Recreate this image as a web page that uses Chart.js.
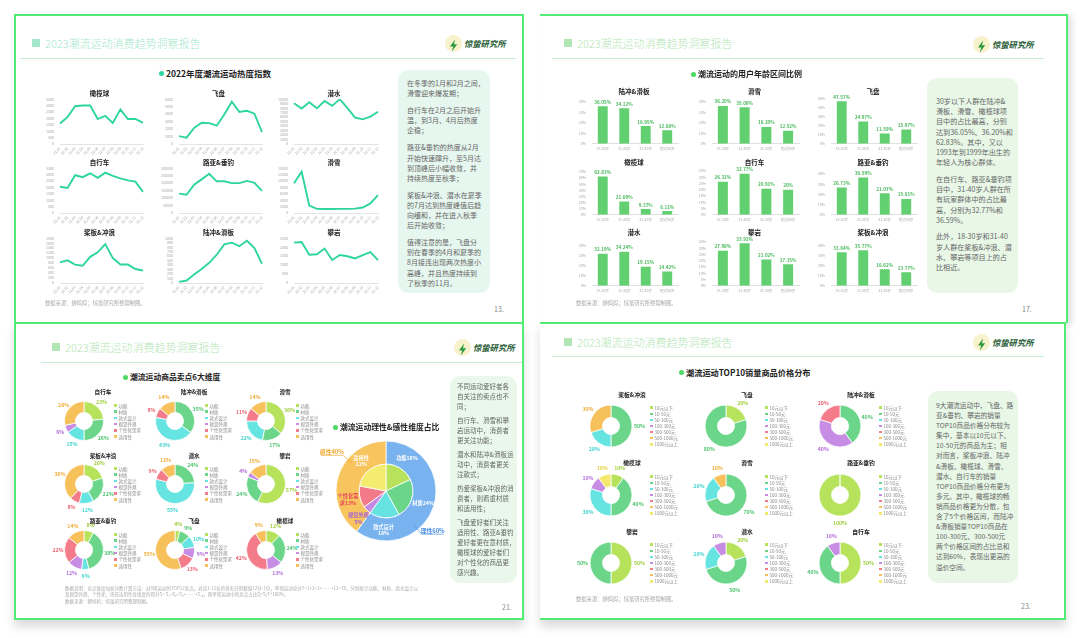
<!DOCTYPE html>
<html lang="zh-CN">
<head>
<meta charset="utf-8">
<title>2023潮流运动消费趋势洞察报告</title>
<script src="https://cdn.jsdelivr.net/npm/chart.js@4.4.1/dist/chart.umd.min.js"></script>
<style>
  body { margin:0; width:1080px; height:638px; background:#fff; position:relative; overflow:hidden;
         font-family:"Noto Sans CJK SC","Noto Sans",sans-serif; }
  .t  { position:absolute; white-space:nowrap; line-height:1; transform:translateY(-50%); }
  .tc { position:absolute; white-space:nowrap; line-height:1; transform:translate(-50%,-50%); }
  .note { position:absolute; box-sizing:border-box; border-radius:10px; color:#666; }
  .note p { margin:0; }
  canvas { position:absolute; }
</style>
</head>
<body>
<script>
// ---------- data ----------
const months = ["22.01","22.02","22.03","22.04","22.05","22.06","22.07","22.08","22.09","22.10","22.11","22.12"];

// 2022年度潮流运动热度指数
const heatRugby   = [1600, 2100, 2950, 3000, 3000, 1950, 2200, 1650, 2700, 1950, 1950, 1650];
const heatFrisbee = [1050, 850, 2150, 2850, 2800, 2450, 3950, 5650, 4300, 4450, 4050, 1600];
const heatDiving  = [9100, 7900, 9300, 7950, 9600, 8500, 10000, 8000, 5900, 5500, 6100, 7200];
const heatCycling = [2050, 1950, 2950, 2800, 3100, 2750, 3150, 2900, 2700, 2550, 2450, 1650];
const heatFishing = [130000, 122000, 190000, 225000, 262000, 212000, 212000, 200000, 200000, 215000, 202000, 148000];
const heatSkiing  = [9300, 12900, 2300, 1300, 1250, 1250, 1300, 1300, 1350, 1700, 3000, 5600];
const heatPaddle  = [830, 910, 740, 690, 1050, 1230, 1560, 1000, 740, 740, 560, 500];
const heatSkate   = [25, 55, 190, 310, 450, 630, 860, 900, 820, 940, 780, 430];
const heatClimb   = [2250, 2280, 1580, 1600, 1920, 1280, 1560, 1490, 1370, 1560, 1720, 1280];

// 潮流运动的用户年龄区间比例 (%)
const ageGroups   = ["18-30岁", "31-40岁", "41-50岁", "超过50岁"];
const ageSkate    = ["36.05", "34.12", "16.95", "12.88"];
const ageSkiing   = ["36.20", "35.00", "16.20", "12.52"];
const ageFrisbee  = ["47.57", "24.97", "11.59", "15.87"];
const ageRugby    = ["62.83", "21.69", "9.37", "6.11"];
const ageCycling  = ["26.32", "32.77", "20.91", "20"];
const ageFishing  = ["26.73", "36.59", "21.07", "15.61"];
const ageDiving   = ["32.19", "34.24", "19.15", "14.42"];
const ageClimb    = ["27.96", "33.91", "21.02", "17.15"];
const agePaddle   = ["33.84", "35.77", "16.62", "13.77"];

// 潮流运动商品卖点6大维度 (%)
const sellDims    = ["功能", "材质", "款式设计", "视觉外观", "个性化需求", "适用性"];
const sellCycling = [23, 26, 15, 6, 0, 28];
const sellSkate   = [0, 35, 43, 0, 8, 14];
const sellSkiing  = [36, 17, 22, 0, 11, 14];
const sellPaddle  = [20, 22, 12, 0, 8, 38];
const sellDiving  = [0, 24, 55, 0, 9, 12];
const sellClimb   = [57, 24, 0, 4, 0, 15];
const sellFishing = [8, 38, 6, 12, 22, 14];
const sellFrisbee = [4, 9, 10, 9, 13, 55];
const sellRugby   = [12, 24, 0, 13, 42, 9];

// 潮流运动理性&感性维度占比 (%)
const mindSides = ["理性", "感性"];
const mindShare = [60, 40];
const dimShare  = [18, 24, 18, 5, 13, 22];

// 潮流运动TOP10销量商品价格分布 (%)
const priceBands   = ["10元以下", "10-50元", "50-100元", "100-300元", "300-500元", "500-1000元", "1000元以上"];
const pricePaddle  = [0, 50, 20, 0, 0, 30, 0];
const priceFrisbee = [20, 80, 0, 0, 0, 0, 0];
const priceSkate   = [0, 40, 0, 40, 20, 0, 0];
const priceRugby   = [10, 40, 30, 10, 0, 0, 10];
const priceSkiing  = [0, 70, 20, 0, 0, 10, 0];
const priceFishing = [100, 0, 0, 0, 0, 0, 0];
const priceClimb   = [50, 50, 0, 0, 0, 0, 0];
const priceDiving  = [20, 50, 20, 10, 0, 0, 0];
const priceCycling = [50, 40, 0, 10, 0, 0, 0];

// ---------- styling ----------
Chart.defaults.font.family = '"Noto Sans CJK SC", "Noto Sans", sans-serif';
Chart.defaults.animation = false;
Chart.defaults.responsive = false;
Chart.defaults.devicePixelRatio = 1;
Chart.defaults.plugins.legend.display = false;
Chart.defaults.plugins.tooltip.enabled = false;

const TEAL = "#2fd59f";
const BAR_GREEN = "#62cf70";
const FRAME = "#52ec74";
const sliceColors = ["#b6e25c", "#6bd68a", "#66e4e2", "#c78ce4", "#f47b89", "#f6c05a", "#f4e96e"];
const labelColors = ["#9fce3e", "#4fc46f", "#3fd3d0", "#b46ed8", "#ef5f70", "#f0ad3a", "#e3cf3c"];

// ---------- helpers ----------
function box(x, y, w, h, css) {
  const d = document.createElement("div");
  d.style.cssText = `position:absolute;left:${x}px;top:${y}px;width:${w}px;height:${h}px;` + (css || "");
  document.body.appendChild(d);
  return d;
}
function text(x, y, s, css, centered) {
  const d = document.createElement("div");
  d.className = centered ? "tc" : "t";
  d.style.cssText = `left:${x}px;top:${y}px;` + (css || "");
  d.textContent = s;
  document.body.appendChild(d);
  return d;
}
function canvasAt(x, y, w, h) {
  const c = document.createElement("canvas");
  w = Math.round(w); h = Math.round(h);
  c.width = w; c.height = h;
  c.style.cssText = `left:${x}px;top:${y}px;width:${w}px;height:${h}px`;
  document.body.appendChild(c);
  return c;
}
const BOLT = '<svg width="17" height="17" viewBox="0 0 17 17"><path d="M10 2.5 L5 9.5 H8.2 L6.8 14.5 L12.2 7.3 H9 Z" fill="#2b9a3e"/></svg>';

function header(x, y, color) {
  box(x, y - 4, 8, 8, `background:${color}`);
  text(x + 13, y, "2023潮流运动消费趋势洞察报告", `font-size:11px;color:${color};font-weight:300`);
}
function logo(x, y) {
  box(x, y - 8.5, 17, 17, "border-radius:50%;background:#f7f1cc").innerHTML = BOLT;
  text(x + 19, y, "惊蛰研究所", "font-size:8.3px;font-weight:700;font-style:italic;color:#1f5b34");
}
function rule(x1, x2, y) { box(x1, y, x2 - x1, 1, "background:#c8efd4"); }
function chartTitle(x, y, s, dot, size) {
  box(x - 2.5, y - 2.5, 5, 5, `border-radius:50%;background:${dot}`);
  text(x + 5, y, s, `font-size:${size}px;font-weight:700;color:#222`);
}
function note(x, y, w, h, bg, paras, size, lh, gap, padL, padT) {
  const d = box(x, y, w, h, `background:${bg};padding:${padT}px 0 0 ${padL}px;font-size:${size}px;line-height:${lh}px;`);
  d.className = "note";
  d.innerHTML = paras.map(p => `<p style="margin-bottom:${gap}px">${p.join("<br>")}</p>`).join("");
}
function small(x, y, s, size) { text(x, y, s, `font-size:${size}px;color:#aaa`); }

// ---------- slides ----------
box(14, 14, 510, 309, `background:#fff;box-sizing:border-box;border:2px solid ${FRAME};border-bottom:0`);
box(540, 14, 528, 309, `background:#fff;box-sizing:border-box;border-top:2px solid ${FRAME};border-right:2px solid ${FRAME};box-shadow:4px 2px 6px rgba(0,0,0,.12)`);
box(14, 322, 510, 298, `background:#fff;box-sizing:border-box;border:2px solid ${FRAME};box-shadow:0 7px 9px rgba(0,0,0,.14)`);
box(540, 322, 526, 298, `background:#fff;box-sizing:border-box;border:2px solid ${FRAME};border-left:0;box-shadow:0 7px 9px rgba(0,0,0,.14)`);

header(32, 43, "#a3e6cc"); logo(445, 43); rule(20, 516, 58);
header(564, 43, "#b3e6b5"); logo(973, 44); rule(552, 1044, 58);
header(52, 347, "#b3e6b5"); logo(454, 347); rule(41, 522, 362);
header(564, 342, "#b3e6b5"); logo(973, 342); rule(552, 1044, 356);

// ---------- slide 13: line charts ----------
chartTitle(161, 73, "2022年度潮流运动热度指数", TEAL, 8.5);
const lineCols = [[60, 143], [179, 262], [294, 378]];
const lineRows = [[96, 143.5], [164.5, 212.5], [235, 283]];
const lineTitleY = [93, 162, 232];
const lineGrid = [
  [["橄榄球", heatRugby, 3500, 500], ["飞盘", heatFrisbee, 6000, 1000], ["潜水", heatDiving, 10000, 1000]],
  [["自行车", heatCycling, 3500, 500], ["路亚&垂钓", heatFishing, 300000, 50000], ["滑雪", heatSkiing, 14000, 2000]],
  [["桨板&冲浪", heatPaddle, 1800, 200], ["陆冲&滑板", heatSkate, 1000, 100], ["攀岩", heatClimb, 2500, 500]]
];
lineGrid.forEach((row, r) => row.forEach((spec, c) => {
  const [name, values, yMax, yStep] = spec;
  const [L, R] = lineCols[c], [T, B] = lineRows[r];
  const yW = 26, padT = 5, padR = 6, xH = 11;
  const cv = canvasAt(L - yW, T - padT, R - L + yW + padR, B - T + padT + xH);
  new Chart(cv, {
    type: "line",
    data: { labels: months, datasets: [{ data: values, borderColor: TEAL, borderWidth: 1.9, pointRadius: 0, tension: 0, fill: false }] },
    options: {
      layout: { padding: { top: padT, right: padR, left: 0, bottom: 0 } },
      scales: {
        x: { grid: { display: false, drawTicks: false }, border: { color: "#e4e4e4" },
             ticks: { font: { size: 3.6 }, color: "#aaa", minRotation: 45, maxRotation: 45, autoSkip: false, padding: 2 },
             afterFit: s => { s.height = xH; } },
        y: { min: 0, max: yMax, grid: { display: false, drawTicks: false }, border: { display: false },
             ticks: { stepSize: yStep, font: { size: 3.6 }, color: "#aaa", padding: 6, autoSkip: false, callback: v => v },
             afterFit: s => { s.width = yW; } }
      }
    }
  });
  text((L + R) / 2 - 2, lineTitleY[r], name, "font-size:6.5px;font-weight:700;color:#222", true);
}));
note(398, 70, 92, 223, "#e6f7ef", [
  ["在冬季的1月和2月之间，", "滑雪迎来爆发期；"],
  ["自行车在2月之后开始升", "温，到3月、4月后热度", "企稳；"],
  ["路亚&垂钓的热度从2月", "开始快速蹿升，至5月达", "到顶峰后小幅收敛，并", "持续热度至秋季；"],
  ["桨板&冲浪、潜水在夏季", "的7月达到热度峰值后趋", "向缓和，并在进入秋季", "后开始收敛；"],
  ["值得注意的是，飞盘分", "别在春季的4月和夏季的", "8月接连出现两次热度小", "高峰，并且热度持续到", "了秋季的11月。"]
], 7, 10.1, 7, 9, 8);
small(45, 304, "数据来源：蝉妈妈；惊蛰研究所整理制图。", 5.3);
text(494, 309, "13.", "font-size:7px;color:#888");

// ---------- slide 17: bar charts ----------
chartTitle(693, 74, "潮流运动的用户年龄区间比例", "#4cd964", 8);
const barCols = [[592, 678], [712, 799], [831, 917]];
const barTops = [[102, 102, 99], [172, 171, 174], [246, 242, 246]];
const barZero = [144, 215, 286];
const barTitleY = [91, 162, 232];
const barGrid = [
  [["陆冲&滑板", ageSkate, 40, 10], ["滑雪", ageSkiing, 40, 10], ["飞盘", ageFrisbee, 50, 10]],
  [["橄榄球", ageRugby, 70, 10], ["自行车", ageCycling, 35, 5], ["路亚&垂钓", ageFishing, 40, 10]],
  [["潜水", ageDiving, 40, 10], ["攀岩", ageClimb, 35, 5], ["桨板&冲浪", agePaddle, 40, 10]]
];
function barValueLabels(texts) {
  return {
    id: "barValueLabels",
    afterDatasetsDraw(chart) {
      const ctx = chart.ctx;
      ctx.save();
      ctx.font = '700 4.6px "Noto Sans CJK SC"';
      ctx.fillStyle = "#48b95a";
      ctx.textAlign = "center";
      ctx.textBaseline = "bottom";
      chart.getDatasetMeta(0).data.forEach((bar, i) => ctx.fillText(texts[i] + "%", bar.x, bar.y - 2));
      ctx.restore();
    }
  };
}
barGrid.forEach((row, r) => row.forEach((spec, c) => {
  const [name, texts, yMax, yStep] = spec;
  const [L, R] = barCols[c], T = barTops[r][c], B = barZero[r];
  const yW = 20, padT = 12, padR = 4, xH = 8;
  const cv = canvasAt(L - yW, T - padT, R - L + yW + padR, B - T + padT + xH);
  new Chart(cv, {
    type: "bar",
    data: { labels: ageGroups, datasets: [{ data: texts.map(Number), backgroundColor: BAR_GREEN, barPercentage: 0.46, categoryPercentage: 1 }] },
    options: {
      layout: { padding: { top: padT, right: padR, left: 0, bottom: 0 } },
      scales: {
        x: { grid: { display: false, drawTicks: false }, border: { color: "#e0e0e0" },
             ticks: { font: { size: 3.5 }, color: "#aaa", maxRotation: 0, autoSkip: false, padding: 3 },
             afterFit: s => { s.height = xH; } },
        y: { min: 0, max: yMax, grid: { display: false, drawTicks: false }, border: { display: false },
             ticks: { stepSize: yStep, font: { size: 3.6 }, color: "#aaa", padding: 6, autoSkip: false, callback: v => v + "%" },
             afterFit: s => { s.width = yW; } }
      }
    },
    plugins: [barValueLabels(texts)]
  });
  text((L + R) / 2 - 1, barTitleY[r], name, "font-size:6.5px;font-weight:700;color:#222", true);
}));
note(927, 78, 91, 215, "#e8f7e6", [
  ["30岁以下人群在陆冲&", "滑板、滑雪、橄榄球项", "目中的占比最高，分别", "达到36.05%、36.20%和", "62.83%。其中，又以", "1993年到1999年出生的", "年轻人为核心群体。"],
  ["在自行车、路亚&垂钓项", "目中，31-40岁人群在所", "有玩家群体中的占比最", "高，分别为32.77%和", "36.59%。"],
  ["此外，18-30岁和31-40", "岁人群在桨板&冲浪、潜", "水、攀岩等项目上的占", "比相近。"]
], 7.1, 10.2, 6.5, 9, 18);
small(576, 304, "数据来源：蝉妈妈；惊蛰研究所整理制图。", 5.3);
text(1022, 309, "17.", "font-size:7px;color:#888");

// ---------- doughnut helpers ----------
function ringLabels(offset, size) {
  return {
    id: "ringLabels",
    afterDatasetsDraw(chart) {
      const ctx = chart.ctx, ds = chart.data.datasets[0];
      ctx.save();
      ctx.font = `700 ${size}px "Noto Sans CJK SC"`;
      ctx.textAlign = "center";
      ctx.textBaseline = "middle";
      chart.getDatasetMeta(0).data.forEach((arc, i) => {
        const v = ds.data[i];
        if (!v) return;
        const a = (arc.startAngle + arc.endAngle) / 2, rr = arc.outerRadius + offset;
        ctx.fillStyle = labelColors[i];
        ctx.fillText(v + "%", arc.x + Math.cos(a) * rr, arc.y + Math.sin(a) * rr);
      });
      ctx.restore();
    }
  };
}
function ring(cx, cy, r, hole, cats, values, offset) {
  const half = Math.round(r + 20);
  const cv = canvasAt(cx - half, cy - half, half * 2, half * 2);
  new Chart(cv, {
    type: "doughnut",
    data: { labels: cats, datasets: [{ data: values, backgroundColor: sliceColors.slice(0, cats.length), borderColor: "#fff", borderWidth: 0.8 }] },
    options: { radius: r, cutout: (hole / r * 100) + "%", layout: { padding: 0 } },
    plugins: [ringLabels(offset, 5.2)]
  });
}
function legendList(x, yc, names, spacing) {
  const y0 = yc - (names.length - 1) * spacing / 2;
  names.forEach((nm, i) => {
    const y = y0 + i * spacing;
    box(x, y - 1.3, 2.6, 2.6, `background:${sliceColors[i]}`);
    text(x + 4.5, y, nm, "font-size:4.5px;color:#888");
  });
}

// ---------- slide 21: selling points ----------
chartTitle(125, 377, "潮流运动商品卖点6大维度", "#4cd964", 7.8);
const sellCx = [84, 175, 266], sellCy = [421, 484, 550], sellTitleY = [393, 457, 522];
const sellGrid = [
  [["自行车", sellCycling], ["陆冲&滑板", sellSkate], ["滑雪", sellSkiing]],
  [["桨板&冲浪", sellPaddle], ["潜水", sellDiving], ["攀岩", sellClimb]],
  [["路亚&垂钓", sellFishing], ["飞盘", sellFrisbee], ["橄榄球", sellRugby]]
];
sellGrid.forEach((row, r) => row.forEach(([name, values], c) => {
  const cx = sellCx[c], cy = sellCy[r];
  ring(cx, cy, 19.5, 8.5, sellDims, values, 6.5);
  legendList(cx + 30, cy, sellDims, 6.2);
  text(cx + 19, sellTitleY[r], name, "font-size:5.6px;font-weight:700;color:#222", true);
}));

chartTitle(335, 427, "潮流运动理性&感性维度占比", "#4cd964", 7.8);
const mindColors = ["#78b3ef", "#f7c45e"];
const mindText = ["#4a8fe0", "#f0aa35"];
const dimColors = ["#b9e25c", "#6bd58a", "#66e3e0", "#c48ae3", "#f37a89", "#f3ec6e"];
const mindLabels = {
  id: "mindLabels",
  afterDatasetsDraw(chart) {
    const ctx = chart.ctx;
    ctx.save();
    ctx.textAlign = "center";
    ctx.textBaseline = "middle";
    ctx.font = '700 5.2px "Noto Sans CJK SC"';
    chart.getDatasetMeta(1).data.forEach((arc, i) => {
      const a = (arc.startAngle + arc.endAngle) / 2, rr = 39;
      const name = sellDims[i], val = dimShare[i] + "%";
      const lines = name.length > 2 ? [name.slice(0, 4), name.slice(4) + val] : [name + val];
      const x = arc.x + Math.cos(a) * rr, y = arc.y + Math.sin(a) * rr;
      ctx.fillStyle = (i === 3 || i === 4) ? ["", "", "", "#a763d6", "#e8475c"][i] : "#fff";
      lines.forEach((ln, k) => ctx.fillText(ln, x, y + (k - (lines.length - 1) / 2) * 6.4));
    });
    ctx.font = '700 5.8px "Noto Sans CJK SC"';
    chart.getDatasetMeta(0).data.forEach((arc, i) => {
      const a = arc.startAngle + 0.65 * (arc.endAngle - arc.startAngle);
      const cs = Math.cos(a), sn = Math.sin(a), dir = cs > 0 ? 1 : -1;
      const x0 = arc.x + cs * (arc.outerRadius - 6), y0 = arc.y + sn * (arc.outerRadius - 6);
      const x1 = arc.x + cs * (arc.outerRadius + 6), y1 = arc.y + sn * (arc.outerRadius + 6);
      const x2 = x1 + dir * 22;
      ctx.strokeStyle = mindText[i];
      ctx.lineWidth = 0.7;
      ctx.beginPath(); ctx.moveTo(x0, y0); ctx.lineTo(x1, y1); ctx.lineTo(x2, y1); ctx.stroke();
      ctx.fillStyle = mindText[i];
      ctx.fillText(mindSides[i] + mindShare[i] + "%", (x1 + x2) / 2, y1 - 3.6);
    });
    ctx.restore();
  }
};
new Chart(canvasAt(300, 425, 172, 132), {
  type: "doughnut",
  data: {
    labels: sellDims,
    datasets: [
      { data: mindShare, backgroundColor: mindColors, borderColor: "#fff", borderWidth: 0.8, weight: 23 },
      { data: dimShare, backgroundColor: dimColors, borderColor: "#fff", borderWidth: 0.8, weight: 27 }
    ]
  },
  options: { radius: 50, cutout: 0, layout: { padding: 0 } },
  plugins: [mindLabels]
});

note(450, 376, 67, 207, "#e9f8ea", [
  ["不同运动爱好者各", "自关注的卖点也不", "同；"],
  ["自行车、滑雪和攀", "岩运动中，消费者", "更关注功能；"],
  ["潜水和陆冲&滑板运", "动中，消费者更关", "注款式；"],
  ["热爱桨板&冲浪的消", "费者，则看重材质", "和适用性；"],
  ["飞盘爱好者们关注", "适用性、路亚&垂钓", "爱好者更在意材质，", "橄榄球的爱好者们", "对个性化的商品更", "感兴趣。"]
], 6.5, 10, 4, 7, 5);
small(65, 588, "数据说明：卖点维度加权分数计算方法：对9项运动的TOP12卖点，对应1-12位的排名分别赋值12分-1分，单项运动总分T=1+2+3+……+12=78，分别统计功能、材质、款式设计以", 4.5);
small(65, 594, "及视觉外观、个性化、场景适用性各维度的得分S= S₁+S₂+S₃+……+S₁₂，则单项运动中的卖点占比Q=S/T*100%。", 4.5);
small(65, 601, "数据来源：蝉妈妈；惊蛰研究所整理制图。", 4.5);
text(502, 607, "21.", "font-size:7px;color:#888");

// ---------- slide 23: price bands ----------
chartTitle(681, 372, "潮流运动TOP10销量商品价格分布", "#4cd964", 8.2);
const priceCx = [611, 726, 840], priceCy = [426, 495, 563], priceTitleY = [395, 463, 532];
const priceGrid = [
  [["桨板&冲浪", pricePaddle], ["飞盘", priceFrisbee], ["陆冲&滑板", priceSkate]],
  [["橄榄球", priceRugby], ["滑雪", priceSkiing], ["路亚&垂钓", priceFishing]],
  [["攀岩", priceClimb], ["潜水", priceDiving], ["自行车", priceCycling]]
];
priceGrid.forEach((row, r) => row.forEach(([name, values], c) => {
  const cx = priceCx[c], cy = priceCy[r];
  ring(cx, cy, 21, 8.5, priceBands, values, 7.5);
  legendList(cx + 39, cy, priceBands, 6.1);
  text(cx + 21, priceTitleY[r], name, "font-size:5.8px;font-weight:700;color:#222", true);
}));
note(928, 391, 90, 192, "#e8f7e6", [[
  "9大潮流运动中，飞盘、路", "亚&垂钓、攀岩的销量", "TOP10商品价格分布较为", "集中，基本以10元以下、",
  "10-50元的商品为主；相", "对而言，桨板冲浪、陆冲", "&滑板、橄榄球、滑雪、", "潜水、自行车的销量",
  "TOP10商品价格分布更为", "多元。其中，橄榄球的畅", "销商品价格更为分散，包", "含了5个价格区间，而陆冲",
  "&滑板销量TOP10商品在", "100-300元、300-500元", "两个价格区间的占比总和", "达到60%，表现出更高的", "溢价空间。"
]], 6.7, 10.1, 0, 8, 9);
small(576, 600, "数据来源：蝉妈妈；惊蛰研究所整理制图。", 5.3);
text(1021, 606, "23.", "font-size:7px;color:#888");
</script>
</body>
</html>
